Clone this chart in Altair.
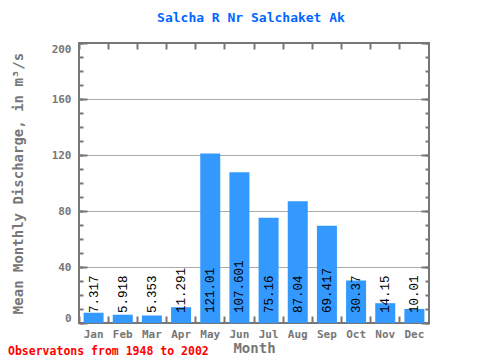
import altair as alt
import pandas as pd

months = ["Jan", "Feb", "Mar", "Apr", "May", "Jun", "Jul", "Aug", "Sep", "Oct", "Nov", "Dec"]
discharge = [7.317, 5.918, 5.353, 11.291, 121.01, 107.601, 75.16, 87.04, 69.417, 30.37, 14.15, 10.01]
labels = ["7.317", "5.918", "5.353", "11.291", "121.01", "107.601", "75.16", "87.04", "69.417", "30.37", "14.15", "10.01"]
y_major = [0, 40, 80, 120, 160, 200]
y_grid = [40, 80, 120, 160]
y_minor = [0, 10, 20, 30, 40, 50, 60, 70, 80, 90, 100, 110, 120, 130, 140, 150, 160, 170, 180, 190, 200]

title_text = "Salcha R Nr Salchaket Ak"
y_title = "Mean Monthly Discharge, in  m³/s"
x_title = "Month"
note_text = "Observatons from 1948 to 2002"

df = pd.DataFrame({"month": months, "value": discharge, "label": labels})

GRAY = "#777777"
FONT = "DejaVu Sans Mono"
LFONT = "Liberation Mono"

xscale = alt.Scale(domain=months, paddingInner=0, paddingOuter=0)
yscale = alt.Scale(domain=[0, 200], nice=False)


def X(axis):
    return alt.X("month:N", scale=xscale, axis=axis)


def Y(axis):
    return alt.Y("value:Q", scale=yscale, axis=axis)


def tick_axis(orient, offset, size, values=None, band=False):
    kw = dict(orient=orient, offset=-offset, tickSize=size, tickColor=GRAY, tickWidth=2,
              labels=False, domain=False, grid=False, title=None)
    if values is not None:
        kw["values"] = values
    if band:
        kw["bandPosition"] = 0
    return alt.Axis(**kw)


base = alt.Chart(df)

grid_layer = base.mark_bar(opacity=0).encode(
    x=X(None),
    y=Y(alt.Axis(orient="left", values=y_grid, grid=True, gridColor="#aaaaaa", gridWidth=1,
                 ticks=False, labels=False, domain=False, title=None)),
)

bars = base.mark_bar(color="#3399ff", size=20).encode(
    x=X(alt.Axis(orient="bottom", ticks=False, domain=False, labelAngle=0,
                 labelFont=FONT, labelFontWeight="bold", labelFontSize=11, labelColor=GRAY,
                 labelPadding=5, title=x_title, titleFont=FONT, titleFontSize=14,
                 titleFontWeight="bold", titleColor=GRAY, titlePadding=2)),
    y=Y(alt.Axis(orient="left", values=y_major, offset=-8, tickSize=8, tickColor=GRAY,
                 tickWidth=2, domain=False, grid=False, labelFlush=True,
                 labelFont=FONT, labelFontWeight="bold", labelFontSize=11, labelColor=GRAY,
                 labelPadding=8, title=y_title, titleFont=FONT, titleFontSize=14,
                 titleFontWeight="bold", titleColor=GRAY, titlePadding=26)),
)

ticks1 = base.mark_bar(opacity=0).encode(
    x=X(tick_axis("bottom", 7, 7, band=True)),
    y=Y(tick_axis("left", 4, 4, values=y_minor)),
)

ticks2 = base.mark_bar(opacity=0).encode(
    x=X(tick_axis("top", 6, 6, band=True)),
    y=Y(tick_axis("right", 8, 8, values=y_major)),
)

ticks3 = base.mark_bar(opacity=0).encode(
    x=X(None),
    y=Y(tick_axis("right", 4, 4, values=y_minor)),
)

text_layer = base.transform_calculate(zero="0").mark_text(
    angle=270, align="left", baseline="middle", dx=10, font=LFONT, fontSize=12.5, color="black"
).encode(
    x=X(None),
    y=alt.Y("zero:Q", scale=yscale, axis=None),
    text="label:N",
)

note = alt.Chart(pd.DataFrame({"note": [note_text]})).mark_text(
    align="left", baseline="middle", font=FONT, fontWeight="bold", fontSize=11.5, color="red"
).encode(
    x=alt.value(-71),
    y=alt.value(309),
    text="note:N",
)

chart = alt.layer(grid_layer, bars, ticks1, ticks2, ticks3, text_layer, note).resolve_axis(
    x="independent", y="independent"
).properties(
    width=350,
    height=280,
    padding={"left": 71, "top": 35, "right": 20, "bottom": 37},
    autosize="none",
    title=alt.TitleParams(title_text, font=FONT, fontSize=13, fontWeight="bold",
                          color="#0066ff", offset=17, anchor="middle", dx=-3),
).configure_view(stroke=GRAY, strokeWidth=2)

chart.save("out.html", embed_options={"renderer": "svg", "actions": False})
